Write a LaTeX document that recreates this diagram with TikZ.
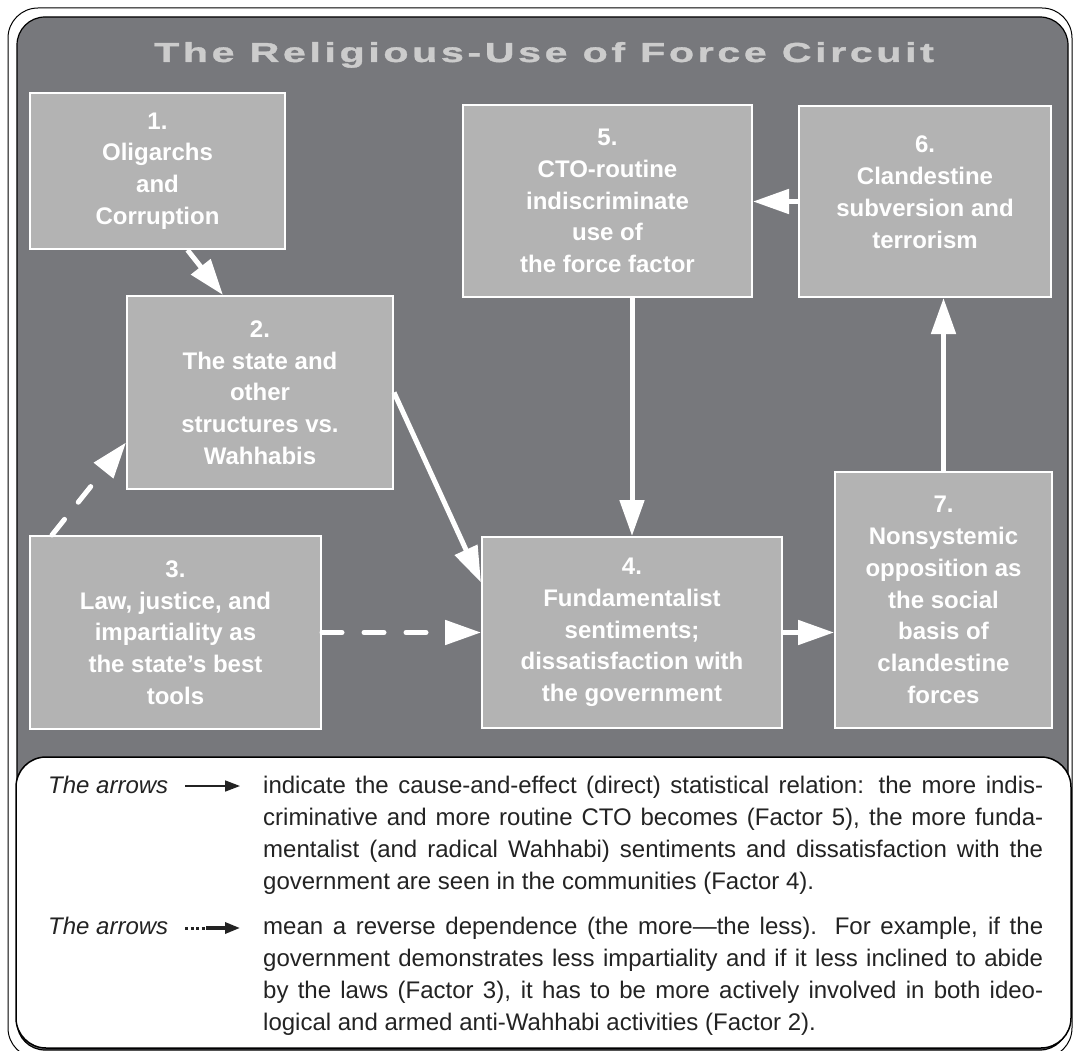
\documentclass[tikz,border=0pt]{standalone}
\usepackage{fontspec}
\setmainfont{Liberation Sans}
\newfontfamily\titlefont[FakeStretch=1.5,FakeBold=1.2,LetterSpace=13]{Liberation Sans}
\usetikzlibrary{calc,arrows.meta}

\definecolor{panel}{RGB}{119,120,124}
\definecolor{boxfill}{RGB}{179,179,179}
\definecolor{titlegray}{RGB}{204,204,204}
\definecolor{ink}{RGB}{35,35,35}

\tikzset{
  factor/.style={draw=white, line width=2pt, fill=boxfill, text=white, align=center, inner sep=0pt,
                 font=\fontsize{24}{31.75}\selectfont\bfseries},
  link/.style={draw=white, line width=5pt, -{Triangle[length=36pt,width=24pt]}},
  inverse/.style={link, line cap=round, dash pattern=on 20pt off 22pt},
  note/.style={text=ink, inner sep=0pt, font=\fontsize{24}{32}\selectfont},
}

\begin{document}
\begin{tikzpicture}[x=1pt,y=-1pt]
                \useasboundingbox (0,0) rectangle (1074,1051);
                % frames
                \draw[rounded corners=30pt, line width=1pt] (8,8) rectangle (1072,1058);
                \draw[rounded corners=28pt, line width=1.2pt, fill=panel] (17,17) rectangle (1068,1050);
                \node[anchor=base, text=titlegray, font=\titlefont\bfseries\fontsize{27.5}{27.5}\selectfont] (title) at (544,62)
                    {The Religious-Use of Force Circuit};
                % factors
                \node[factor, minimum width=255pt, minimum height=156pt] (b1) at (157.5,171)
                    {1.\\Oligarchs\\and\\Corruption};
                \node[factor, minimum width=266pt, minimum height=193pt] (b2) at (260,392.5)
                    {2.\\The state and\\other\\structures vs.\\Wahhabis};
                \node[factor, minimum width=291pt, minimum height=193pt] (b3) at (175.5,632.5)
                    {3.\\Law, justice, and\\impartiality as\\the state’s best\\tools};
                \node[factor, minimum width=300pt, minimum height=191pt] (b4) at (632,632.5)
                    {4.\\Fundamentalist\\sentiments;\\dissatisfaction with\\the government};
                \node[factor, minimum width=289pt, minimum height=192pt] (b5) at (607.5,201)
                    {5.\\CTO-routine\\indiscriminate\\use of\\the force factor};
                \node[factor, minimum width=252pt, minimum height=191pt] (b6) at (925,201.5)
                    {6.\\Clandestine\\subversion and\\terrorism\\[-13pt]};
                \node[factor, minimum width=217pt, minimum height=256pt] (b7) at (943.5,600)
                    {7.\\Nonsystemic\\opposition as\\the social\\basis of\\clandestine\\forces};
                % circuit
                \draw[link] ($(b1.south)+(30,0)$) -- ($(b2.north)+(-37,0)$);
                \draw[link] (b2.east) -- ($(b4.west)+(0,-50)$);
                \draw[link] (b5.south -| b4.north) -- (b4.north);
                \draw[link] (b4.east) -- (b7.west |- b4.east);
                \draw[link] (b7.north) -- (b7.north |- b6.south);
                \draw[link] (b6.west) -- (b6.west -| b5.east);
                \draw[inverse] ($(b3.north west)+(23,0)$) -- ($(b2.west)+(0,50)$);
                \draw[inverse] (b3.east) -- (b4.west);
                % legend
                \draw[rounded corners=30pt, line width=1.5pt, fill=white] (16,757) rectangle (1071,1048);
                \node[note, anchor=base west, font=\fontsize{24}{32}\selectfont\itshape] (key1) at (48,793) {The arrows};
                \node[note, anchor=base west, font=\fontsize{24}{32}\selectfont\itshape] (key2) at (48,934) {The arrows};
                \node[note, anchor=base west, text width=780pt, align=justify] (note1) at (263,793)
                    {indicate the cause-and-effect (direct) statistical relation: the more indis-\linebreak
                     criminative and more routine CTO becomes (Factor 5), the more funda-\linebreak
                     mentalist (and radical Wahhabi) sentiments and dissatisfaction with the\linebreak
                     government are seen in the communities (Factor 4).};
                \node[note, anchor=base west, text width=780pt, align=justify] (note2) at (263,934)
                    {mean a reverse dependence (the more—the less). For example, if the\linebreak
                     government demonstrates less impartiality and if it less inclined to abide\linebreak
                     by the laws (Factor 3), it has to be more actively involved in both ideo-\linebreak
                     logical and armed anti-Wahhabi activities (Factor 2).};
                \coordinate (s1) at (185,786);
                \coordinate (e1) at (240,786);
                \coordinate (s2) at (185,928);
                \coordinate (m2) at (206,928);
                \coordinate (e2) at (240,928);
                \draw[ink, line width=1.6pt, -{Triangle[length=15pt,width=11pt]}] (s1) -- (e1);
                \draw[ink, line width=3pt, dash pattern=on 3pt off 2.5pt] (s2) -- (m2);
                \draw[ink, line width=3.2pt, -{Triangle[length=15pt,width=11pt]}] (m2) -- (e2);
            \end{tikzpicture}
\end{document}
